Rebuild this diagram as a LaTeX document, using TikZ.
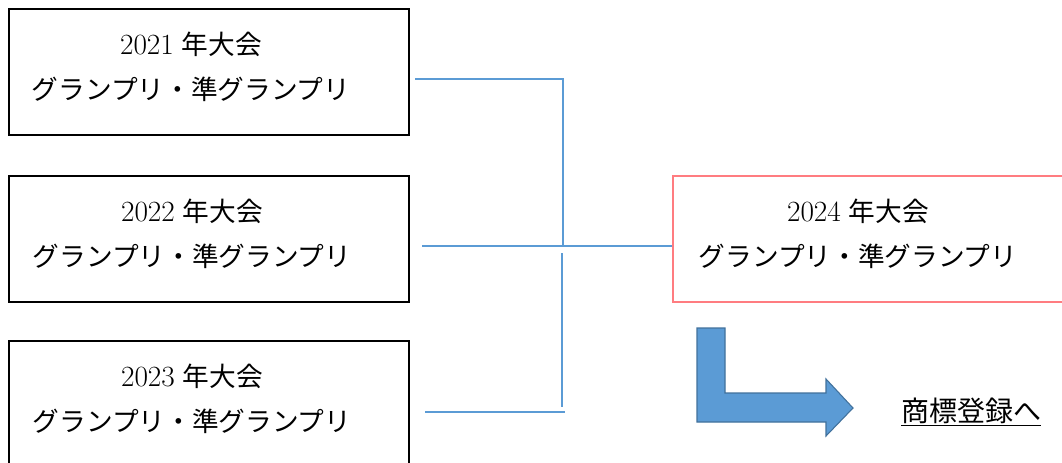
\documentclass[tikz,border=0pt]{standalone}
\usepackage{fontspec}
\newfontfamily\cjk{Noto Sans CJK JP}
\definecolor{wblue}{HTML}{5B9BD5}
\definecolor{wbluedark}{HTML}{41719C}
\definecolor{wred}{HTML}{FF7C80}
\newcommand{\yr}[1]{{\fontsize{22}{33.75}\selectfont #1}}
\tikzset{
  gbox/.style={draw=black, line width=0.8pt, minimum width=300pt, minimum height=94.5pt, inner sep=0pt},
  rbox/.style={draw=wred, line width=0.8pt, minimum width=300pt, minimum height=94.5pt, inner sep=0pt},
  txt/.style={align=center, inner sep=0pt, font=\fontsize{20}{33.75}\selectfont},
  conn/.style={draw=wblue, line width=0.8pt},
  bigarrow/.style={fill=wblue, draw=wbluedark, line width=0.8pt, line join=miter}
}
\begin{document}
\begin{tikzpicture}[x=0.75pt,y=-0.75pt]
\clip (0,0) rectangle (1062,463);
\fill[white] (0,0) rectangle (1062,463);
% boxes
\node[gbox] (b1) at (209,72) {};
\node[gbox] (b2) at (209,239) {};
\node[gbox] (b3) at (209,404) {};
\node[rbox] (r)  at (873,239) {};
% texts
\node[txt] (t1) at (191,66.5) {\yr{2021} {\cjk 年大会}\\{\cjk グランプリ・準グランプリ}};
\node[txt] (t2) at (192,233.5) {\yr{2022} {\cjk 年大会}\\{\cjk グランプリ・準グランプリ}};
\node[txt] (t3) at (192,398.5) {\yr{2023} {\cjk 年大会}\\{\cjk グランプリ・準グランプリ}};
\node[txt] (t4) at (858,233.5) {\yr{2024} {\cjk 年大会}\\{\cjk グランプリ・準グランプリ}};
% connectors
\coordinate (c1s) at (415,79);
\coordinate (c1m) at (563,79);
\coordinate (c1e) at (563,246);
\coordinate (c2s) at (422,246);
\coordinate (c3a) at (562,253);
\coordinate (c3b) at (562,407);
\coordinate (c3s) at (425,412);
\coordinate (c3e) at (565,412);
\draw[conn] (c1s) -- (c1m) -- (c1e);
\draw[conn] (c2s) -- (c2s -| r.west);
\draw[conn] (c3a) -- (c3b);
\draw[conn] (c3s) -- (c3e);
% bent arrow
\draw[bigarrow] (697,328) -- (725,328) -- (725,393) -- (826,393) -- (826,379) -- (853,408) -- (826,436) -- (826,422) -- (697,422) -- cycle;
\node[inner sep=0pt, font=\fontsize{21}{24}\selectfont\cjk] (tm) at (971,412) {\underline{商標登録へ}};
\end{tikzpicture}
\end{document}
